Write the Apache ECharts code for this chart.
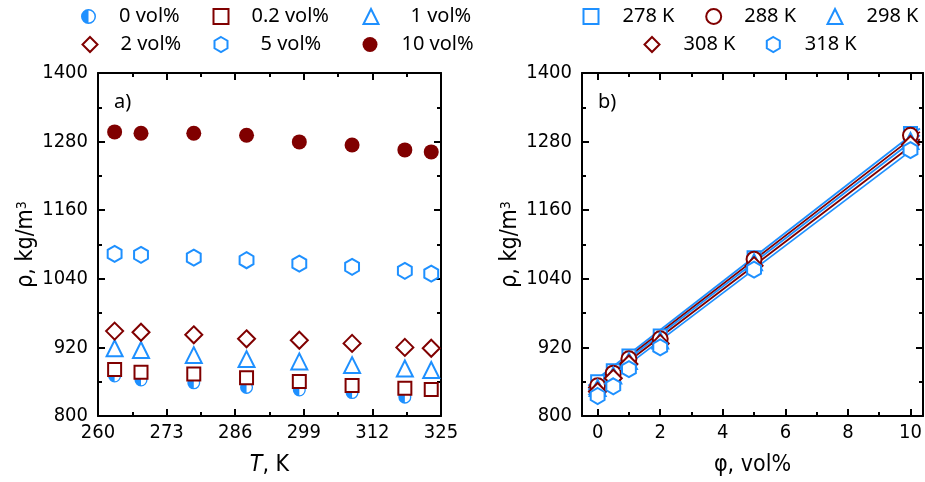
<!DOCTYPE html>
<html><head><meta charset="utf-8">
<script src="https://cdn.jsdelivr.net/npm/echarts@6/dist/echarts.min.js"></script>
<style>html,body{margin:0;padding:0;background:#fff}#c{width:925px;height:482px}</style>
</head><body><div id="c"></div>
<script>
// ---------- Panel a: density vs temperature ----------
const T = [263.15, 268.15, 278.15, 288.15, 298.15, 308.15, 318.15, 323.15];
const rho0  = [870, 863, 858, 850, 845.5, 841, 833, null];
const rho02 = [881.5, 876.5, 873.5, 867, 860.5, 853.5, 848.5, 846.5];
const rho1  = [918.5, 915.5, 906.5, 899.5, 895.5, 889, 883, 880.5];
const rho2  = [948.5, 946.5, 942, 935, 932.5, 927, 920, 918.5];
const rho5  = [1083.5, 1082, 1077, 1072.5, 1066.5, 1061, 1054, 1049];
const rho10 = [1297, 1294.5, 1294.5, 1291, 1279.5, 1274, 1265.5, 1262];
const xTicksA = [260, 273, 286, 299, 312, 325];
const xMinorA = [266.5, 279.5, 292.5, 305.5, 318.5];
const yTicks = [800, 920, 1040, 1160, 1280, 1400];
const yMinor = [860, 980, 1100, 1220, 1340];

// ---------- Panel b: density vs volume fraction ----------
const phi = [0, 0.5, 1, 2, 5, 10];
const r278 = [860, 879, 905, 940, 1077, 1294];
const r288 = [853, 875, 900, 935, 1074, 1291];
const r298 = [849, 871, 896, 932, 1069, 1281];
const r308 = [843, 866, 891, 927, 1063, 1275];
const r318 = [835, 852, 882, 920, 1056, 1265];
const phiFit = [-0.3, 10.3];
const fit278 = [853, 1303];
const fit288 = [849, 1297];
const fit298 = [846, 1291];
const fit308 = [842, 1284];
const fit318 = [837, 1276];
const xTicksB = [0, 2, 4, 6, 8, 10];
const xMinorB = [1, 3, 5, 7, 9];

const BLUE = '#1E90FF', RED = '#800000';
const TICKFONT = "'Liberation Sans Narrow','DejaVu Sans Condensed','Liberation Sans',sans-serif";
const LEGFONT = "'Noto Sans','DejaVu Sans',sans-serif";
const HALF = 'path://M0,-10 A10,10 0 0 1 0,10 L0,8 A8,8 0 0 0 0,-8 Z M0,-10 A10,10 0 0 0 0,10 Z';
const HEX = 'path://M0,-10 L8.66,-5 L8.66,5 L0,10 L-8.66,5 L-8.66,-5 Z';

function mkAxis(grid, pos, min, max, ticks, len, label, line, extra) {
  return Object.assign({
    type: 'value', gridIndex: grid, position: pos, min: min, max: max,
    axisLine: {show: line, onZero: false, lineStyle: {color: '#000', width: 2}},
    axisTick: {show: true, inside: true, length: len, customValues: ticks, lineStyle: {color: '#000', width: 2}},
    axisLabel: label ? {show: true, customValues: ticks, color: '#000', fontSize: 20, fontFamily: TICKFONT,
      margin: (pos === 'left' ? 10 : 7), formatter: v => String(v)} : {show: false},
    splitLine: {show: false}
  }, extra || {});
}

const yName = {
  name: 'ρ, kg/m{sup|3}', nameLocation: 'middle', nameGap: 60, nameMoveOverlap: false,
  nameTextStyle: {fontSize: 23, fontFamily: TICKFONT, color: '#000',
    rich: {sup: {fontSize: 14, fontFamily: TICKFONT, color: '#000', verticalAlign: 'top', padding: [0, 0, 8, 0]}}}
};

const xAxes = [
  mkAxis(0, 'bottom', 260, 325, xTicksA, 7, true, true, {
    name: '{i|T}, K', nameLocation: 'middle', nameGap: 38, nameMoveOverlap: false,
    nameTextStyle: {fontSize: 23, fontFamily: TICKFONT, color: '#000',
      rich: {i: {fontStyle: 'italic', fontSize: 23, fontFamily: TICKFONT, color: '#000'}}}
  }),
  mkAxis(0, 'bottom', 260, 325, xMinorA, 4, false, false),
  mkAxis(0, 'top', 260, 325, xTicksA, 7, false, true),
  mkAxis(0, 'top', 260, 325, xMinorA, 4, false, false),
  mkAxis(1, 'bottom', -0.5, 10.4, xTicksB, 7, true, true, {
    name: 'φ, vol%', nameLocation: 'middle', nameGap: 38, nameMoveOverlap: false,
    nameTextStyle: {fontSize: 23, fontFamily: TICKFONT, color: '#000'}
  }),
  mkAxis(1, 'bottom', -0.5, 10.4, xMinorB, 4, false, false),
  mkAxis(1, 'top', -0.5, 10.4, xTicksB, 7, false, true),
  mkAxis(1, 'top', -0.5, 10.4, xMinorB, 4, false, false)
];
const yAxes = [
  mkAxis(0, 'left', 800, 1400, yTicks, 7, true, true, yName),
  mkAxis(0, 'left', 800, 1400, yMinor, 4, false, false),
  mkAxis(0, 'right', 800, 1400, yTicks, 7, false, true),
  mkAxis(0, 'right', 800, 1400, yMinor, 4, false, false),
  mkAxis(1, 'left', 800, 1400, yTicks, 7, true, true, yName),
  mkAxis(1, 'left', 800, 1400, yMinor, 4, false, false),
  mkAxis(1, 'right', 800, 1400, yTicks, 7, false, true),
  mkAxis(1, 'right', 800, 1400, yMinor, 4, false, false)
];

function pts(xs, ys) {
  const out = [];
  xs.forEach((x, i) => { if (ys[i] !== null) out.push([x, ys[i]]); });
  return out;
}
function scat(name, xi, yi, xs, ys, symbol, size, style, keep) {
  return {type: 'scatter', name: name, xAxisIndex: xi, yAxisIndex: yi, data: pts(xs, ys),
    symbol: symbol, symbolSize: size, symbolKeepAspect: !!keep, itemStyle: Object.assign({opacity: 1}, style), z: 3,
    emphasis: {disabled: true}};
}
const open = c => ({color: '#fff', borderColor: c, borderWidth: 2});
function fitLine(name, ys, c) {
  return {type: 'line', name: name, xAxisIndex: 4, yAxisIndex: 4, data: pts(phiFit, ys),
    showSymbol: false, symbol: 'none', lineStyle: {color: c, width: 1.8, opacity: 1}, z: 2, silent: true};
}

const series = [
  scat('0 vol%', 0, 0, T, rho0, HALF, 13, {color: BLUE, borderWidth: 0}),
  scat('0.2 vol%', 0, 0, T, rho02, 'rect', 13, open(RED)),
  scat('1 vol%', 0, 0, T, rho1, 'triangle', 16, open(BLUE)),
  scat('2 vol%', 0, 0, T, rho2, 'diamond', 17, open(RED)),
  scat('5 vol%', 0, 0, T, rho5, HEX, 16, open(BLUE), true),
  scat('10 vol%', 0, 0, T, rho10, 'circle', 15, {color: RED}),
  fitLine('f278', fit278, BLUE),
  fitLine('f288', fit288, RED),
  fitLine('f298', fit298, BLUE),
  fitLine('f308', fit308, RED),
  fitLine('f318', fit318, BLUE),
  scat('278 K', 4, 4, phi, r278, 'rect', 13, open(BLUE)),
  scat('288 K', 4, 4, phi, r288, 'circle', 15, open(RED)),
  scat('298 K', 4, 4, phi, r298, 'triangle', 16, open(BLUE)),
  scat('308 K', 4, 4, phi, r308, 'diamond', 17, open(RED)),
  scat('318 K', 4, 4, phi, r318, HEX, 16, open(BLUE), true)
];

function leg(name, cx, cy, pad) {
  return {data: [name], left: cx - 7.5, top: cy - 7.5, itemWidth: 15, itemHeight: 15, padding: 0,
    selectedMode: false, textStyle: {fontSize: 20, fontFamily: LEGFONT, color: '#000', padding: [0, 0, 0, pad]}};
}
const legends = [
  leg('0 vol%', 88.5, 14, 18), leg('0.2 vol%', 220, 14, 18), leg('1 vol%', 370, 14, 27),
  leg('2 vol%', 89, 42, 18), leg('5 vol%', 221, 42, 27), leg('10 vol%', 370, 42, 19),
  leg('278 K', 590, 14, 19), leg('288 K', 712.7, 14, 18), leg('298 K', 834, 14, 19),
  leg('308 K', 651, 42, 19), leg('318 K', 773.3, 42, 19)
];

const chart = echarts.init(document.getElementById('c'), null, {renderer: 'canvas'});
chart.setOption({
  animation: false,
  backgroundColor: '#fff',
  grid: [
    {left: 98, top: 73, width: 343, height: 343, containLabel: false},
    {left: 582, top: 73, width: 341, height: 343, containLabel: false}
  ],
  title: [
    {text: 'a)', left: 114, top: 92, padding: 0, textStyle: {fontSize: 20, fontWeight: 'normal', fontFamily: LEGFONT, color: '#000'}},
    {text: 'b)', left: 598, top: 92, padding: 0, textStyle: {fontSize: 20, fontWeight: 'normal', fontFamily: LEGFONT, color: '#000'}}
  ],
  legend: legends,
  xAxis: xAxes,
  yAxis: yAxes,
  series: series
});
</script></body></html>
